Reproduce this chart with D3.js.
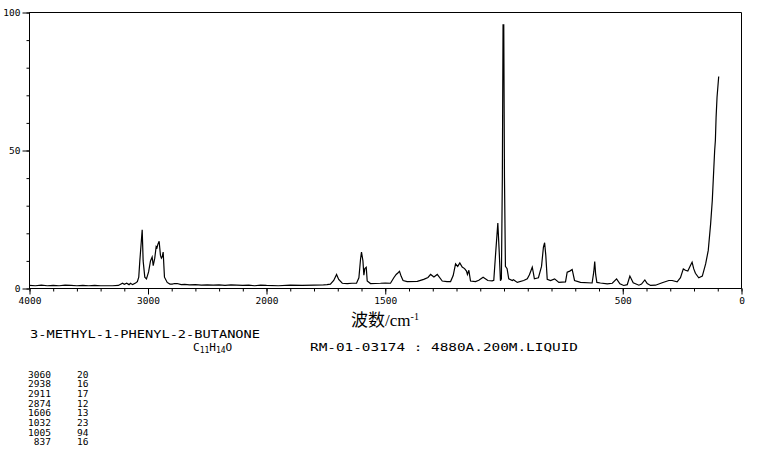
<!DOCTYPE html>
<html><head><meta charset="utf-8">
<script src="https://cdn.jsdelivr.net/npm/d3@7/dist/d3.min.js"></script>
<style>html,body{margin:0;padding:0;background:#fff;}svg{display:block;}</style>
</head><body>
<script>
// ---- data ----
const wavenumber = [4000,3950,3900,3850,3800,3750,3700,3650,3600,3550,3500,3450,3400,3350,3300,3250,3215,3200,3180,3160,3148,3130,3105,3090,3078,3069,3049,3041,3027,3013,2995,2979,2965,2956,2943,2931,2924,2917,2906,2895,2887,2880,2872,2861,2838,2815,2796,2775,2754,2720,2690,2650,2600,2550,2500,2450,2400,2350,2300,2250,2200,2150,2100,2050,2000,
1950,1900,1850,1800,1760,1745,1731,1717,1705,1696,1681,1660,1640,1621,1611,1604,1600,1594,1590,1586,1580,1576,1562,1520,1500,1478,1464,1454,1447,1440,1433,1425,1408,1365,1338,1320,1309,1295,1281,1260,1240,1225,1214,1204,1195,1186,1176,1166,1158,1154,1148,1141,1120,1106,1088,1068,1050,1043,1035,1026,1020,1015,1011,1007,1004,1001,998,994,987,980,965,960,944,917,902,893,881,876,872,855,842,834,829,824,818,804,787,769,741,734,723,713,703,678,629,622,618,614,609,594,565,544,526,512,496,481,470,456,432,421,407,397,383,362,334,306,292,271,257,245,236,226,215,208,201,194,180,165,151,140,130,123,117,113,110,107,103,96];
const intensity = [1.1,1.0,1.2,1.0,1.1,1.0,1.2,1.1,1.0,1.1,1.0,1.1,1.0,1.0,1.0,1.1,1.9,1.5,1.9,1.4,1.9,1.4,2.0,2.5,4.1,10,21.3,10,4.1,3.5,6,10,11.4,8.3,11,15.2,14.8,16,17.1,12,11,11.5,13.2,4.1,2.2,1.6,1.6,1.8,1.8,1.4,1.5,1.3,1.4,1.2,1.3,1.2,1.3,1.1,1.3,1.2,1.1,1.2,1.0,1.2,1.1,
1.0,1.2,1.1,1.2,1.3,1.4,1.6,2.9,5.1,3.3,1.9,1.8,1.9,1.9,3.9,10.7,13.2,10,4.8,7.2,7.7,2.7,1.8,1.9,2.0,1.9,3.9,5.1,5.6,6.2,4.4,2.9,2.5,2.6,3.3,4.0,5.1,4.2,5.1,2.7,2.5,2.5,4.7,8.9,8.0,9.3,7.8,7.2,6.3,5.1,6.6,2.7,2.5,3.0,4.1,2.9,2.8,3.0,13,23.7,13,2.8,3.5,40,95.5,95.5,40,8,7.2,3.5,2.9,3.2,2.2,2.9,3.5,5,7.7,5.5,3.5,3.9,8,15,16.6,12,3.3,2.9,3.5,2.2,2.4,5.9,6.3,6.9,2.9,2.2,2.0,6,9.8,5,2.2,2.0,1.7,1.9,3.5,1.7,1.1,1.4,4.5,2.1,1.2,1.6,3.1,1.8,1.1,1.2,2.1,2.9,2.9,2.4,3.9,7.1,6.6,6.3,8.3,9.5,7.1,5.5,3.9,4.5,8.9,13.8,23.4,31.9,42.8,50,53.6,62,69.3,76.8];

const xMajorTicks = [4000,3000,2000,1500,500,0];
const xMinorTicks = [4000,3800,3600,3400,3200,3000,2800,2600,2400,2200,2000,1900,1800,1700,1600,1500,1400,1300,1200,1100,1000,900,800,700,600,500,400,300,200,100,0];
const yMajorTicks = [0,50,100];
const yMinorTicks = [0,10,20,30,40,50,60,70,80,90,100];

const compoundName = "3-METHYL-1-PHENYL-2-BUTANONE";
const sampleInfo = "RM-01-03174 : 4880A.200M.LIQUID";
const peakWave = ["3060","2938","2911","2874","1606","1032","1005","837"];
const peakInt = ["20","16","17","12","13","23","94","16"];

// ---- chart ----
const W = 765, H = 454;
const svg = d3.select("body").append("svg").attr("width", W).attr("height", H);
svg.append("rect").attr("width", W).attr("height", H).attr("fill", "#fff");

const x = d3.scaleLinear().domain([4000, 2000, 0]).range([29.5, 266.5, 741.5]);
const y = d3.scaleLinear().domain([0, 100]).range([288.5, 12.5]);
const mono = "'DejaVu Sans Mono', 'Liberation Mono', monospace";

// frame
svg.append("line").attr("x1", x(4000)).attr("x2", x(0)).attr("y1", y(100)).attr("y2", y(100)).attr("stroke", "#000");
svg.append("line").attr("x1", x(0)).attr("x2", x(0)).attr("y1", y(100)).attr("y2", y(0)).attr("stroke", "#000");

// x axis
const gxMin = svg.append("g").attr("transform", `translate(0,${y(0)})`)
  .call(d3.axisBottom(x).tickValues(xMinorTicks).tickSize(3).tickFormat(""));
const gx = svg.append("g").attr("transform", `translate(0,${y(0)})`)
  .call(d3.axisBottom(x).tickValues(xMajorTicks).tickSize(6).tickPadding(3).tickFormat(d3.format("d")));
[gxMin, gx].forEach(g => { g.select(".domain").attr("stroke", "#000").attr("d", `M${x(4000)},0H${x(0)}`); g.selectAll("line").attr("stroke", "#000"); });
gx.selectAll("text").attr("font-family", mono).attr("font-size", 9.5).attr("fill", "#000");

// y axis
const gyMin = svg.append("g").attr("transform", `translate(${x(4000)},0)`)
  .call(d3.axisLeft(y).tickValues(yMinorTicks).tickSize(3).tickFormat(""));
const gy = svg.append("g").attr("transform", `translate(${x(4000)},0)`)
  .call(d3.axisLeft(y).tickValues(yMajorTicks).tickSize(7).tickPadding(2).tickFormat(d3.format("d")));
[gyMin, gy].forEach(g => { g.select(".domain").attr("stroke", "#000").attr("d", `M0,${y(0)}V${y(100)}`); g.selectAll("line").attr("stroke", "#000"); });
gy.selectAll("text").attr("font-family", mono).attr("font-size", 9.5).attr("fill", "#000");

// spectrum
const pts = wavenumber.map((w, i) => [w, intensity[i]]);
svg.append("path").datum(pts)
  .attr("fill", "none").attr("stroke", "#000").attr("stroke-width", 1.2)
  .attr("stroke-linejoin", "miter")
  .attr("d", d3.line().x(d => x(d[0])).y(d => y(d[1])));

// axis title
const at = svg.append("text").attr("x", 385).attr("y", 326).attr("text-anchor", "middle")
  .attr("font-family", "'Liberation Serif', 'Noto Sans CJK SC', serif").attr("font-size", 17).attr("fill", "#000");
at.append("tspan").attr("font-family", "'Noto Sans CJK SC', sans-serif").text("波数");
at.append("tspan").text("/cm");
at.append("tspan").attr("font-size", 10).attr("dy", -6).text("-1");

// compound name
svg.append("text").attr("x", 30).attr("y", 337.5).attr("font-family", mono).attr("font-size", 11)
  .attr("textLength", 230).attr("lengthAdjust", "spacingAndGlyphs").attr("fill", "#000").text(compoundName);

// formula
const f = svg.append("text").attr("x", 193).attr("y", 350.5).attr("font-family", mono).attr("font-size", 11).attr("fill", "#000");
f.append("tspan").text("C");
f.append("tspan").attr("font-size", 8).attr("dy", 2).text("11");
f.append("tspan").attr("dy", -2).text("H");
f.append("tspan").attr("font-size", 8).attr("dy", 2).text("14");
f.append("tspan").attr("dy", -2).text("O");

svg.append("text").attr("x", 310).attr("y", 350.5).attr("font-family", mono).attr("font-size", 11)
  .attr("textLength", 268).attr("lengthAdjust", "spacingAndGlyphs").attr("fill", "#000").text(sampleInfo);

// peak table
const tbl = svg.append("g").attr("font-family", mono).attr("font-size", 9.5).attr("fill", "#000");
peakWave.forEach((w, i) => {
  const yy = 377.5 + i * 9.7;
  tbl.append("text").attr("x", 51).attr("y", yy).attr("text-anchor", "end").text(w);
  tbl.append("text").attr("x", 77).attr("y", yy).text(peakInt[i]);
});
</script>
</body></html>
